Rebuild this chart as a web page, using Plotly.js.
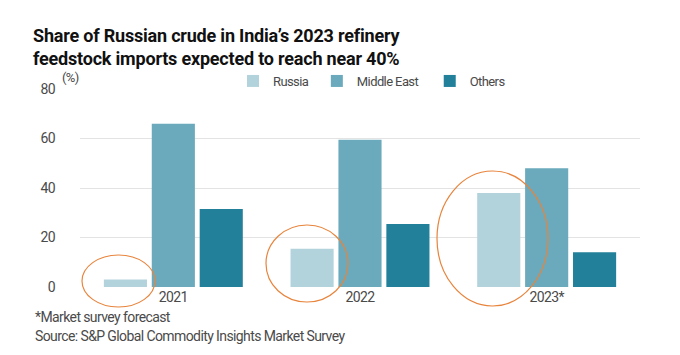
<!DOCTYPE html>
<html><head><meta charset="utf-8">
<script src="https://cdn.plot.ly/plotly-3.0.1.min.js"></script>
<style>
html,body{margin:0;padding:0;background:#fff;}
#chart{width:680px;height:355px;}
#chart .gtitle{letter-spacing:-0.2px;}
#chart .legendtext{letter-spacing:-0.6px;}
#chart .annotation-text{letter-spacing:-0.6px;}
#chart .xtick text,#chart .ytick text{letter-spacing:-0.6px;}
</style>
</head><body><div id="chart"></div>
<script>
const years = ["2021", "2022", "2023*"];
const russia = [3, 15.5, 38];
const middleEast = [66, 59.5, 48];
const others = [31.5, 25.5, 14];
const seriesNames = ["Russia", "Middle East", "Others"];
const colors = ["#b3d3dc", "#6aaabc", "#22809a"];

const F = "Roboto, sans-serif";
const vals = [russia, middleEast, others];
const traces = vals.map((v, i) => ({
  type: "bar", x: years, y: v, name: seriesNames[i],
  marker: {color: colors[i]}, hoverinfo: "skip"
}));

const ell = (x0, x1, y0, y1) => ({type: "circle", xref: "paper", yref: "paper",
  x0: (x0-80)/560, x1: (x1-80)/560, y0: (287-y1)/198, y1: (287-y0)/198,
  line: {color: "#e8843c", width: 1.2}});

const layout = {
  width: 680, height: 355,
  margin: {l: 80, r: 40, t: 89, b: 68},
  paper_bgcolor: "#fff", plot_bgcolor: "#fff",
  font: {family: F, size: 14, color: "#4a4a4a"},
  title: {text: "<b>Share of Russian crude in India’s 2023 refinery<br>feedstock imports expected to reach near 40%</b>",
    x: 33/680, xref: "container", xanchor: "left", y: 1 - 42/355, yref: "container", yanchor: "top",
    font: {family: F, size: 18, color: "#111"}},
  barmode: "group", bargap: 0.23, bargroupgap: 0.1,
  xaxis: {type: "category", showgrid: false, zeroline: false, showline: false, ticks: "", tickfont: {size: 14, color: "#4a4a4a"}},
  yaxis: {range: [0, 80], dtick: 20, showgrid: true, gridcolor: "#e3e3e3", zeroline: false, showline: false,
    ticks: "", ticklabelstandoff: 24, tickfont: {size: 14, color: "#4a4a4a"}},
  showlegend: true,
  legend: {orientation: "h", x: (233-80)/560, xanchor: "left", y: (287-81)/198, yanchor: "middle",
    font: {size: 13, color: "#4a4a4a"}, itemwidth: 30, bgcolor: "rgba(0,0,0,0)"},
  annotations: [
    {text: "(%)", xref: "paper", yref: "paper", x: (60-80)/560, y: (287-77)/198, xanchor: "left", yanchor: "middle", align: "left", showarrow: false, font: {size: 13, color: "#4a4a4a"}},
    {text: "*Market survey forecast", xref: "paper", yref: "paper", x: (33-80)/560, y: (287-317)/198, xanchor: "left", yanchor: "middle", align: "left", showarrow: false, font: {size: 14, color: "#4a4a4a"}},
    {text: "Source: S&P Global Commodity Insights Market Survey", xref: "paper", yref: "paper", x: (33-80)/560, y: (287-336)/198, xanchor: "left", yanchor: "middle", align: "left", showarrow: false, font: {size: 14, color: "#4a4a4a"}}
  ],
  shapes: [ell(82, 155, 255, 307), ell(266, 348, 225, 302), ell(437, 548, 171, 306)]
};
Plotly.newPlot("chart", traces, layout, {displayModeBar: false, staticPlot: true});
</script></body></html>
